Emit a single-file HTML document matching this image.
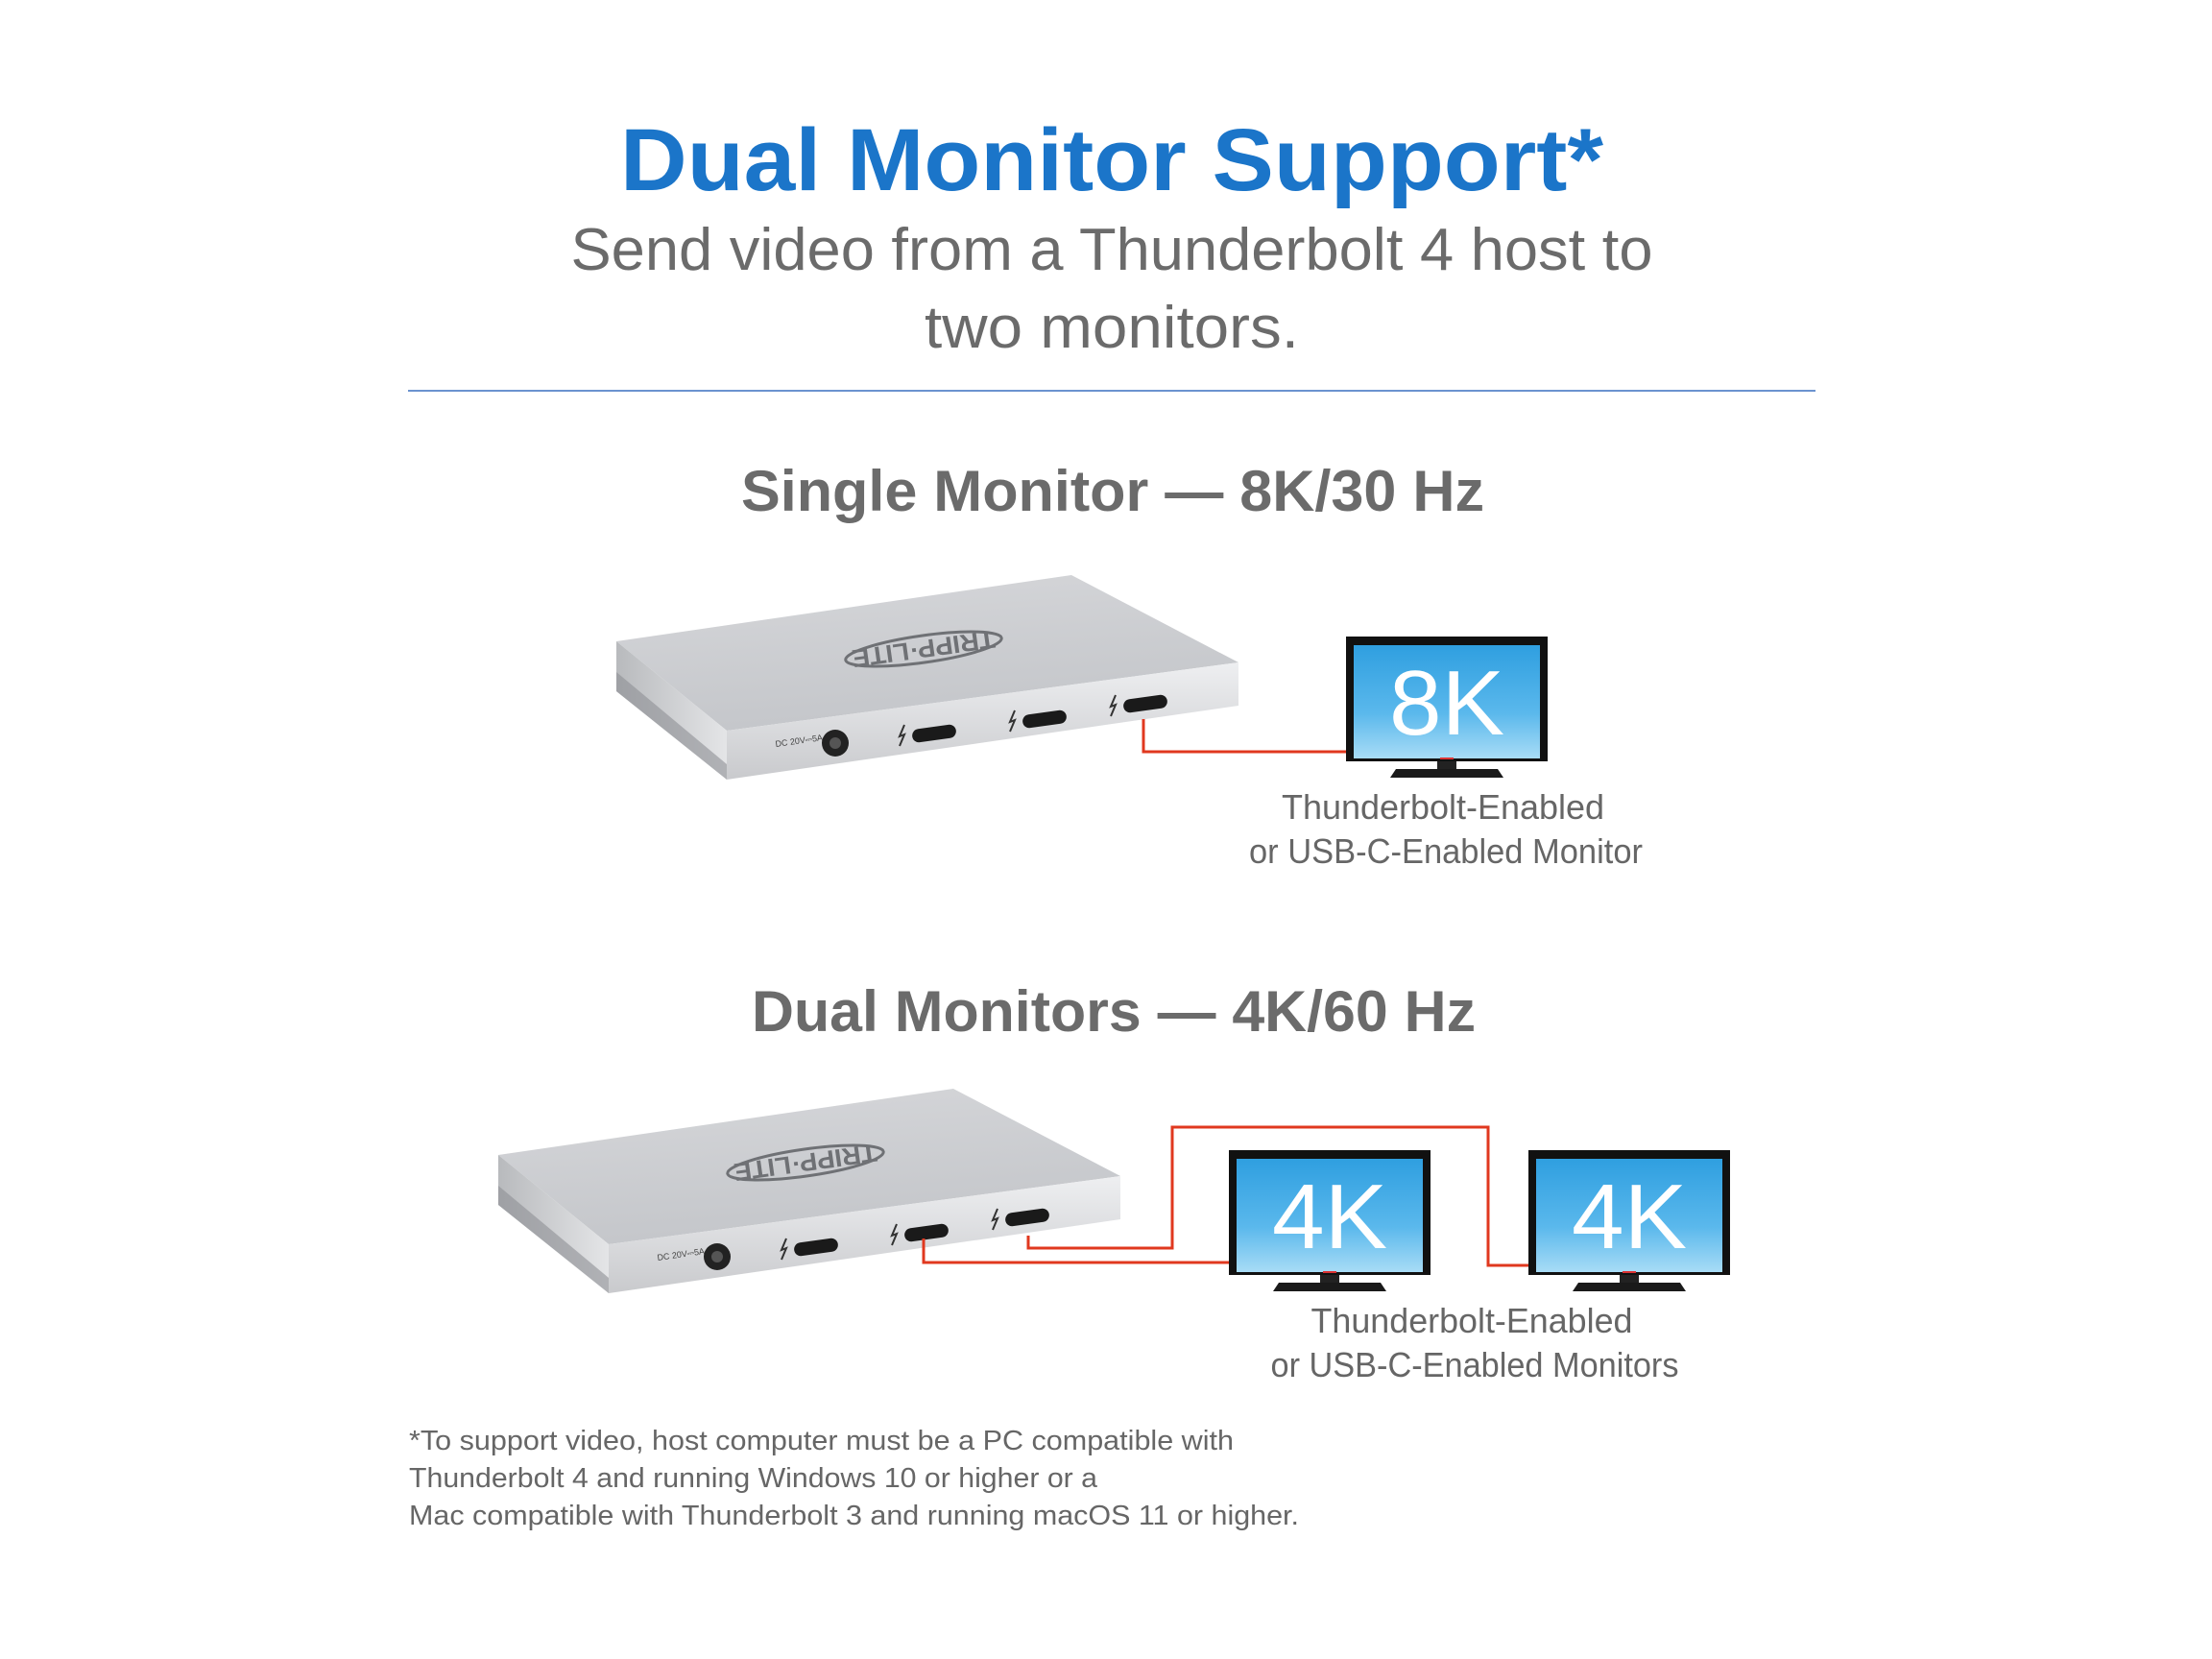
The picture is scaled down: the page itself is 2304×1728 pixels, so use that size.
<!DOCTYPE html>
<html><head><meta charset="utf-8"><style>html,body{margin:0;padding:0;background:#fff}svg{display:block}</style></head>
<body>
<svg width="2304" height="1728" viewBox="0 0 2304 1728" xmlns="http://www.w3.org/2000/svg" font-family="Liberation Sans, sans-serif">
<defs>
<linearGradient id="top" x1="0" y1="0" x2="0.3" y2="1"><stop offset="0" stop-color="#d6d7da"/><stop offset="1" stop-color="#c4c6ca"/></linearGradient>
<linearGradient id="front" x1="0" y1="0" x2="0" y2="1"><stop offset="0" stop-color="#eeeff1"/><stop offset="1" stop-color="#c9cacd"/></linearGradient>
<linearGradient id="side" x1="0" y1="0" x2="1" y2="0"><stop offset="0" stop-color="#b8babd"/><stop offset="1" stop-color="#e4e5e7"/></linearGradient>
<linearGradient id="scr" x1="0" y1="0" x2="0" y2="1"><stop offset="0" stop-color="#2f9fe0"/><stop offset="0.6" stop-color="#5ab8ec"/><stop offset="1" stop-color="#a8dcf6"/></linearGradient>
<g id="dock">
<polygon points="642,668 1116,599 1290,690 757,761" fill="url(#top)"/>
<polygon points="757,761 1290,690 1290,735 757,812" fill="url(#front)"/>
<polygon points="642,668 757,761 757,812 642,720" fill="url(#side)"/>
<polygon points="642,700 757,796 757,812 642,720" fill="#8e9094" opacity="0.6"/>
<g transform="translate(962,676) rotate(-8) scale(-1,-1)">
<ellipse cx="0" cy="0" rx="82" ry="14" fill="none" stroke="#6f7175" stroke-width="3"/>
<text x="0" y="9" text-anchor="middle" font-size="26" font-weight="bold" fill="#6f7175" textLength="150" lengthAdjust="spacingAndGlyphs">TRIPP·LITE</text>
</g>
<circle cx="870" cy="774" r="14" fill="#222"/><circle cx="870" cy="774" r="6" fill="#555"/>
<text x="808" y="778" font-size="9" fill="#444" transform="rotate(-8 808 778)">DC 20V⎓5A</text>
<g fill="#1a1a1a">
<rect x="950" y="757" width="46" height="14" rx="7" transform="rotate(-8 973 764)"/>
<rect x="1065" y="742" width="46" height="14" rx="7" transform="rotate(-8 1088 749)"/>
<rect x="1170" y="726" width="46" height="14" rx="7" transform="rotate(-8 1193 733)"/>
</g>
<g stroke="#333" stroke-width="2" fill="none">
<path d="M942,755 l-5,12 l5,-2 l-5,12"/><path d="M1057,740 l-5,12 l5,-2 l-5,12"/><path d="M1162,724 l-5,12 l5,-2 l-5,12"/>
</g>
</g>
<g id="mon">
<rect x="0" y="0" width="210" height="130" fill="#111"/>
<rect x="8" y="9" width="194" height="118" fill="url(#scr)"/>
<rect x="95" y="130" width="20" height="8" fill="#222"/>
<path d="M52,138 h106 l6,9 h-118 z" fill="#1a1a1a"/>
<rect x="98" y="126" width="14" height="2" fill="#d33"/>
</g>
</defs>

<text x="1158" y="198" text-anchor="middle" font-size="92" font-weight="bold" fill="#1b75c9" textLength="1024" lengthAdjust="spacingAndGlyphs">Dual Monitor Support*</text>
<text x="1158" y="281" text-anchor="middle" font-size="62" fill="#6b6b6b" textLength="1127" lengthAdjust="spacingAndGlyphs">Send video from a Thunderbolt 4 host to</text>
<text x="1158" y="362" text-anchor="middle" font-size="62" fill="#6b6b6b" textLength="390" lengthAdjust="spacingAndGlyphs">two monitors.</text>
<rect x="425" y="406" width="1466" height="2" fill="#6b93cf"/>

<text x="1159" y="532" text-anchor="middle" font-size="60" font-weight="bold" fill="#6b6b6b" textLength="774" lengthAdjust="spacingAndGlyphs">Single Monitor — 8K/30 Hz</text>
<use href="#dock"/>
<polyline points="1191,749 1191,783 1402,783" fill="none" stroke="#e0381f" stroke-width="3"/>
<g transform="translate(1402,663)"><use href="#mon"/><text x="105" y="102" text-anchor="middle" font-size="96" fill="#fff" textLength="120" lengthAdjust="spacingAndGlyphs">8K</text></g>
<text x="1503" y="853" text-anchor="middle" font-size="36" fill="#666" textLength="336" lengthAdjust="spacingAndGlyphs">Thunderbolt-Enabled</text>
<text x="1506" y="899" text-anchor="middle" font-size="36" fill="#666" textLength="410" lengthAdjust="spacingAndGlyphs">or USB-C-Enabled Monitor</text>

<text x="1160" y="1074" text-anchor="middle" font-size="60" font-weight="bold" fill="#6b6b6b" textLength="754" lengthAdjust="spacingAndGlyphs">Dual Monitors — 4K/60 Hz</text>
<use href="#dock" transform="translate(-123,535)"/>
<polyline points="1071,1287 1071,1300 1221,1300 1221,1174 1550,1174 1550,1318 1592,1318" fill="none" stroke="#e0381f" stroke-width="3"/>
<polyline points="962,1290 962,1315 1280,1315" fill="none" stroke="#e0381f" stroke-width="3"/>
<g transform="translate(1280,1198)"><use href="#mon"/><text x="105" y="102" text-anchor="middle" font-size="96" fill="#fff" textLength="120" lengthAdjust="spacingAndGlyphs">4K</text></g>
<g transform="translate(1592,1198)"><use href="#mon"/><text x="105" y="102" text-anchor="middle" font-size="96" fill="#fff" textLength="120" lengthAdjust="spacingAndGlyphs">4K</text></g>
<text x="1533" y="1388" text-anchor="middle" font-size="36" fill="#666" textLength="335" lengthAdjust="spacingAndGlyphs">Thunderbolt-Enabled</text>
<text x="1536" y="1434" text-anchor="middle" font-size="36" fill="#666" textLength="425" lengthAdjust="spacingAndGlyphs">or USB-C-Enabled Monitors</text>

<text x="426" y="1510" font-size="29" fill="#666" textLength="859" lengthAdjust="spacingAndGlyphs">*To support video, host computer must be a PC compatible with</text>
<text x="426" y="1549" font-size="29" fill="#666" textLength="717" lengthAdjust="spacingAndGlyphs">Thunderbolt 4 and running Windows 10 or higher or a</text>
<text x="426" y="1588" font-size="29" fill="#666" textLength="927" lengthAdjust="spacingAndGlyphs">Mac compatible with Thunderbolt 3 and running macOS 11 or higher.</text>
</svg>
</body></html>
